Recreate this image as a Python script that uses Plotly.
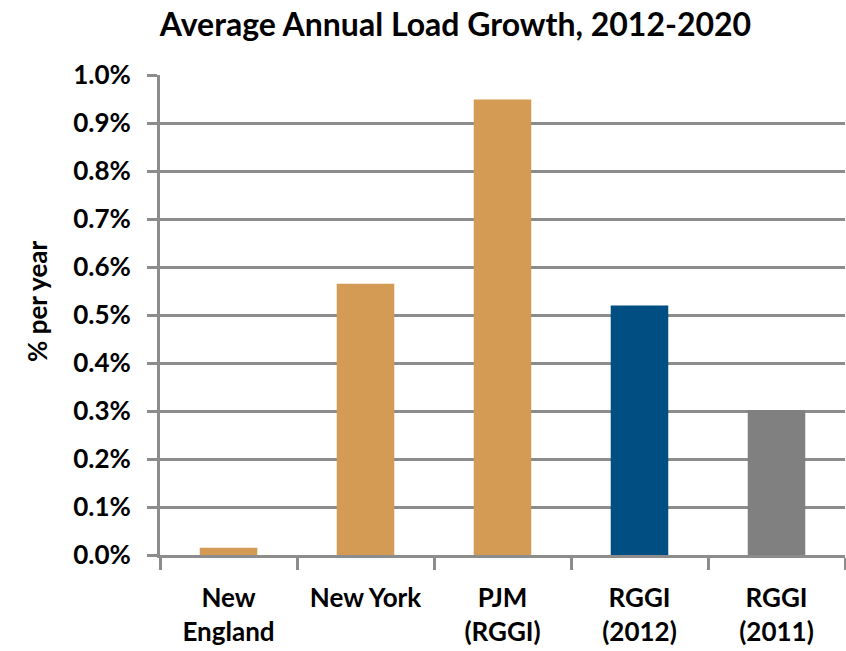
import plotly.graph_objects as go

categories = ["New<br>England", "New York", "PJM<br>(RGGI)", "RGGI<br>(2012)", "RGGI<br>(2011)"]
values = [0.015, 0.565, 0.949, 0.520, 0.302]
colors = ["#D49B55", "#D49B55", "#D49B55", "#004E82", "#808080"]
y_ticks = [0.0, 0.1, 0.2, 0.3, 0.4, 0.5, 0.6, 0.7, 0.8, 0.9, 1.0]

GRID = "#8C8C8C"
FONT = "Lato"

fig = go.Figure(go.Bar(
    x=categories, y=values,
    marker=dict(color=colors, line=dict(width=0)),
    width=0.42,
))

fig.update_layout(
    width=846, height=651,
    margin=dict(l=160, r=1, t=75, b=96),
    paper_bgcolor="white", plot_bgcolor="white",
    showlegend=False,
    title=dict(text="<b>Average Annual Load Growth, 2012-2020</b>",
               x=455.5 / 846, xanchor="center", y=1 - 25 / 651, yanchor="middle",
               font=dict(family=FONT, size=32, color="black")),
    font=dict(family=FONT, color="black"),
    annotations=[dict(
        text="<b>% per year</b>", textangle=-90,
        xref="paper", yref="paper",
        x=(37 - 160) / 685, y=(555 - 302) / 480,
        xanchor="center", yanchor="middle", showarrow=False,
        font=dict(family=FONT, size=26, color="black"),
    )],
)

fig.update_yaxes(
    range=[0, 1.0], tickvals=y_ticks,
    ticktext=[f"<b>{v:.1f}%</b>" for v in y_ticks],
    showgrid=True, gridcolor=GRID, gridwidth=3,
    showline=True, linecolor=GRID, linewidth=3,
    ticks="outside", ticklen=10, tickwidth=3, tickcolor=GRID,
    ticklabelstandoff=11,
    tickfont=dict(family=FONT, size=26, color="black"),
    zeroline=False,
)

fig.update_xaxes(
    tickson="boundaries",
    showline=True, linecolor=GRID, linewidth=3,
    ticks="outside", ticklen=12, tickwidth=3, tickcolor=GRID,
    tickvals=categories,
    ticktext=[f"<b>{c}</b>" for c in categories],
    tickfont=dict(family=FONT, size=26, color="black"),
    ticklabelstandoff=18,
    showgrid=False,
)

fig.write_html("out.html")
